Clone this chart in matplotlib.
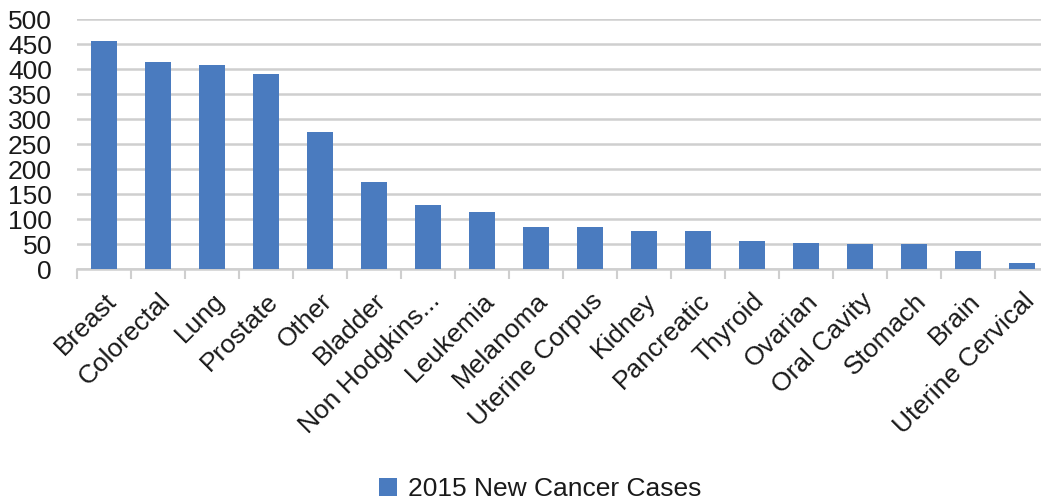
import numpy as np
import matplotlib.pyplot as plt

plt.rcParams['font.family'] = ['Liberation Sans', 'DejaVu Sans']

# -------------------------------------------------
# Data
# -------------------------------------------------
cancer_types = ["Breast", "Colorectal", "Lung", "Prostate", "Other", "Bladder",
                "Non Hodgkins...", "Leukemia", "Melanoma", "Uterine Corpus",
                "Kidney", "Pancreatic", "Thyroid", "Ovarian", "Oral Cavity",
                "Stomach", "Brain", "Uterine Cervical"]
new_cases = [456, 414, 408, 391, 274, 175, 129, 114, 84, 84,
             76, 76, 57, 53, 50, 50, 37, 13]
y_ticks = [0, 50, 100, 150, 200, 250, 300, 350, 400, 450, 500]
series_name = "2015 New Cancer Cases"

bar_color = "#4a7bbf"
grid_color = "#cfcfcf"
text_color = "#1a1a1a"

# -------------------------------------------------
# Figure
# -------------------------------------------------
W, H = 1041, 504
fig = plt.figure(figsize=(W / 100, H / 100), dpi=100)
ax = fig.add_axes([77 / W, (H - 269.3) / H, 972 / W, 250.3 / H])

x = np.arange(len(cancer_types))
bars = ax.bar(x, new_cases, width=0.47, color=bar_color, zorder=3,
              label=series_name)

ax.set_xlim(-0.5, len(cancer_types) - 0.5)
ax.set_ylim(0, 500)
ax.set_yticks(y_ticks)
ax.set_yticklabels([str(v) for v in y_ticks], fontsize=19, color=text_color)
ax.yaxis.grid(True, color=grid_color, linewidth=1.8, zorder=0)
ax.tick_params(axis='y', length=0, pad=18)

ax.set_xticks(x)
ax.set_xticklabels(cancer_types, rotation=45, ha='right',
                   rotation_mode='anchor', fontsize=19, color=text_color)
ax.tick_params(axis='x', which='major', length=0, pad=14)
ax.set_xticks(np.arange(len(cancer_types) + 1) - 0.5, minor=True)
ax.tick_params(axis='x', which='minor', length=7, width=1.5, color=grid_color)

for side in ['top', 'right', 'left']:
    ax.spines[side].set_visible(False)
ax.spines['bottom'].set_color(grid_color)
ax.spines['bottom'].set_linewidth(1.8)

fig.legend(handles=[bars], labels=[series_name], loc='center',
           bbox_to_anchor=(540 / W, (H - 489) / H), frameon=False,
           fontsize=19, handlelength=0.7, handleheight=0.7,
           handletextpad=0.4, labelcolor=text_color)

fig.savefig("out.png", dpi=100)
